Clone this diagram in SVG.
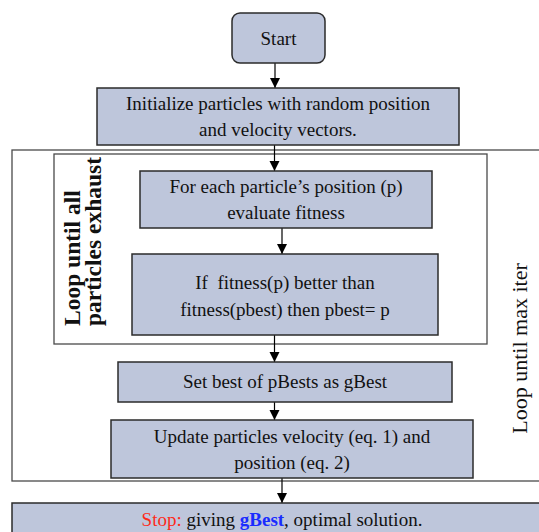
<svg xmlns="http://www.w3.org/2000/svg" width="539" height="532" viewBox="0 0 539 532">
<style>
  .box { fill: #bec6db; stroke: #2b2b2b; stroke-width: 1.5; }
  .loop { fill: none; stroke: #4a4a4a; stroke-width: 1.3; }
  .t { font-family: "Liberation Serif", "Times New Roman", serif; font-size: 19px; fill: #111; text-anchor: middle; }
  .side { font-family: "Liberation Serif", "Times New Roman", serif; font-size: 22px; fill: #111; }
  .bold { font-size: 23.5px; font-weight: bold; }
  .conn { stroke: #000; stroke-width: 1.2; fill: none; marker-end: url(#arr); }
</style>
<defs>
  <marker id="arr" markerUnits="userSpaceOnUse" markerWidth="10" markerHeight="11" refX="10" refY="5" orient="auto">
    <path d="M0,0 L10,5 L0,10 z" fill="#000"/>
  </marker>
</defs>
<rect width="539" height="532" fill="#fff"/>

<g id="outer-loop">
  <rect class="loop" x="12" y="150" width="540" height="331"/>
  <text class="side" transform="translate(527,348.5) rotate(-90)" text-anchor="middle">Loop until max iter</text>
</g>
<g id="inner-loop">
  <rect class="loop" x="54" y="154" width="433" height="190"/>
  <text class="side bold" transform="translate(80,326) rotate(-90)">Loop until all</text>
  <text class="side bold" transform="translate(101,326) rotate(-90)">particles exhaust</text>
</g>

<g id="connectors">
  <line class="conn" x1="275" y1="63" x2="275" y2="88"/>
  <line class="conn" x1="274.5" y1="145" x2="274.5" y2="171"/>
  <line class="conn" x1="282" y1="228" x2="282" y2="254"/>
  <line class="conn" x1="274.5" y1="335" x2="274.5" y2="362"/>
  <line class="conn" x1="274.5" y1="402" x2="274.5" y2="420"/>
  <line class="conn" x1="282" y1="478" x2="282" y2="503"/>
</g>

<g id="start">
  <rect class="box" x="232" y="13" width="93" height="50" rx="8" ry="8"/>
  <text class="t" x="278.5" y="45">Start</text>
</g>
<g id="init">
  <rect class="box" x="97" y="88" width="362" height="57"/>
  <text class="t" x="278" y="110">Initialize particles with random position</text>
  <text class="t" x="278" y="136">and velocity vectors.</text>
</g>
<g id="evaluate">
  <rect class="box" x="140" y="171" width="292" height="57"/>
  <text class="t" x="286" y="193">For each particle’s position (p)</text>
  <text class="t" x="286" y="219">evaluate fitness</text>
</g>
<g id="compare">
  <rect class="box" x="132" y="254" width="306" height="81"/>
  <text class="t" x="285" y="289">If&#160; fitness(p) better than</text>
  <text class="t" x="285" y="316">fitness(pbest) then pbest= p</text>
</g>
<g id="setbest">
  <rect class="box" x="118" y="362" width="334" height="40"/>
  <text class="t" x="285" y="388">Set best of pBests as gBest</text>
</g>
<g id="update">
  <rect class="box" x="111" y="420" width="362" height="58"/>
  <text class="t" x="292" y="443">Update particles velocity (eq. 1) and</text>
  <text class="t" x="292" y="469">position (eq. 2)</text>
</g>
<g id="stop">
  <rect class="box" x="12" y="503" width="540" height="40"/>
  <text class="t" x="282" y="526"><tspan fill="#ff2a1a">Stop:</tspan> giving <tspan fill="#1a2cff" font-weight="bold">gBest</tspan>, optimal solution.</text>
</g>
</svg>
